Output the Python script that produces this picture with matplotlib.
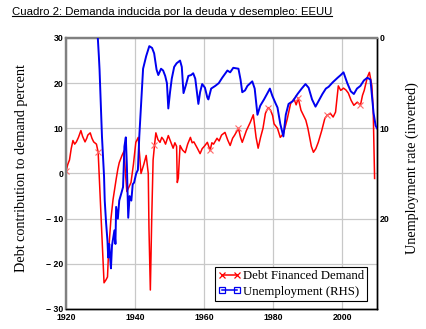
import numpy as np
import matplotlib
matplotlib.use("Agg")
import matplotlib.pyplot as plt
from matplotlib.lines import Line2D

# Debt financed demand, percent of aggregate demand (left axis)
debt_years = [1920.0, 1920.5, 1921.0, 1921.5, 1922.0, 1922.5, 1923.0, 1923.6, 1924.3, 1924.8,
              1925.5, 1926.0, 1926.3, 1927.0, 1927.5, 1928.0, 1928.8,
              1929.3, 1929.7, 1930.3, 1930.6, 1931.0, 1931.6, 1932.0, 1932.3, 1933.0, 1933.6,
              1934.5, 1935.0, 1935.4, 1936.2, 1936.8, 1937.2, 1937.6, 1938.2, 1938.8, 1939.5,
              1940.2, 1940.9, 1941.3, 1941.7, 1942.5, 1943.2, 1943.8, 1944.0, 1944.4, 1944.8,
              1945.2, 1945.6, 1946.0, 1946.6, 1947.2, 1947.7, 1948.2, 1948.8, 1949.6, 1950.3,
              1951.0, 1951.5, 1952.0, 1952.2, 1952.5, 1953.0, 1953.7, 1954.5, 1955.2, 1956.0,
              1956.5, 1957.0, 1958.0, 1958.8, 1959.4, 1960.0, 1960.9, 1961.7, 1962.2, 1962.7,
              1963.7, 1964.3, 1965.0, 1966.0, 1966.8, 1967.5, 1968.2, 1968.8, 1969.9, 1970.5,
              1971.0, 1971.6, 1972.2, 1973.3, 1974.2, 1975.0, 1975.6, 1976.3, 1977.0, 1977.7,
              1978.5, 1979.2, 1979.8, 1980.2, 1981.2, 1982.0, 1982.9, 1983.5, 1984.0, 1985.0,
              1986.0, 1986.6, 1987.2, 1988.0, 1988.7, 1989.4, 1990.0, 1991.0, 1991.6, 1992.3,
              1993.0, 1994.0, 1994.9, 1995.6, 1996.5, 1997.3, 1998.0, 1998.8, 1999.5, 2000.3,
              2001.0, 2001.7, 2002.5, 2003.3, 2004.3, 2005.2, 2005.8, 2006.3, 2007.2, 2007.8,
              2008.5, 2008.9, 2009.1, 2009.3]
debt_vals = [0.5, 2.0, 3.0, 5.5, 7.3, 6.5, 7.0, 8.0, 9.5, 8.2,
             7.0, 7.8, 8.5, 9.0, 7.8, 7.0, 6.5,
             4.7, -2.0, -12.0, -17.5, -24.2, -23.5, -22.9, -17.5, -10.0, -5.8,
             -1.3, 1.0, 2.4, 4.0, 5.0, 0.0, -4.0, -3.0, -2.0, 2.0,
             6.9, 8.0, 4.0, 0.0, 2.0, 4.0, 0.0, -12.0, -25.8, -10.0,
             3.0, 6.2, 9.0, 7.5, 6.9, 8.0, 7.5, 6.5, 8.4, 7.0,
             5.6, 6.8, 6.0, -2.0, -1.0, 6.2, 5.2, 4.6, 6.5, 8.0,
             6.8, 7.0, 5.6, 4.4, 5.5, 6.0, 6.9, 5.1, 6.8, 6.5,
             7.8, 7.2, 8.5, 9.1, 7.4, 6.2, 7.8, 8.5, 10.0, 8.0,
             6.9, 8.2, 9.5, 11.3, 13.0, 8.0, 5.6, 8.0, 10.0, 13.3,
             14.6, 14.0, 12.8, 11.0, 10.0, 8.0, 8.8, 10.5, 12.0, 15.5,
             16.5, 15.2, 16.7, 14.0, 12.9, 11.8, 10.0, 6.0, 4.7, 5.5,
             6.9, 9.5, 12.2, 12.9, 13.3, 12.5, 13.6, 19.4, 18.4, 18.9,
             18.5, 17.8, 16.2, 15.1, 15.8, 15.1, 17.3, 18.4, 21.3, 22.4,
             19.5, 14.0, 6.0, -1.1]
debt_marker_years = [1920.0, 1929.3, 1945.6, 1961.7, 1969.9, 1978.5, 1987.2, 1995.6, 2005.2]

# Unemployment rate, percent (right axis, inverted)
unemp_years = [1929.2, 1929.5, 1929.7, 1930.4, 1931.0, 1931.2, 1931.6, 1932.0, 1932.2, 1932.5,
               1932.7, 1933.0, 1933.3, 1933.5, 1934.0, 1934.3, 1934.5, 1935.0, 1935.4, 1936.0,
               1936.5, 1936.9, 1937.3, 1937.6, 1938.0, 1938.4, 1938.9, 1939.3, 1939.7, 1940.3,
               1940.8, 1941.2, 1942.3, 1943.2, 1944.1, 1944.9, 1945.5, 1946.2, 1946.7, 1947.5,
               1948.1, 1948.7, 1949.2, 1949.6, 1950.1, 1950.6, 1951.3, 1952.0, 1953.0, 1953.5,
               1954.0, 1954.7, 1955.4, 1956.2, 1956.8, 1957.4, 1958.3, 1958.8, 1959.4, 1960.2,
               1960.9, 1961.2, 1962.0, 1963.2, 1964.2, 1965.2, 1966.7, 1967.5, 1968.4, 1969.9,
               1970.5, 1971.0, 1971.8, 1972.5, 1973.9, 1974.6, 1975.4, 1976.2, 1977.3, 1978.3,
               1979.0, 1979.7, 1980.6, 1981.2, 1982.0, 1982.9, 1983.6, 1984.4, 1985.6, 1987.0,
               1988.2, 1989.3, 1990.2, 1991.2, 1992.2, 1993.2, 1994.2, 1995.2, 1996.0, 1997.2,
               1998.6, 1999.5, 2000.3, 2001.4, 2002.4, 2003.3, 2004.2, 2005.2, 2006.2, 2007.2,
               2008.1, 2009.0, 2009.6, 2010.0]
unemp_vals = [0.0, 2.0, 3.5, 10.9, 15.3, 18.0, 20.5, 22.5, 24.3, 22.8,
              24.0, 25.5, 23.0, 22.5, 21.3, 22.8, 18.7, 20.0, 18.0, 17.2,
              16.5, 12.0, 11.0, 14.0, 19.9, 17.5, 18.0, 16.2, 16.0, 15.0,
              14.6, 10.9, 3.4, 2.0, 0.9, 1.1, 1.7, 3.5, 4.1, 3.4,
              3.6, 4.2, 5.0, 7.8, 6.0, 4.5, 3.2, 2.8, 2.5, 3.2,
              6.1, 5.2, 4.2, 4.1, 3.9, 4.5, 7.3, 6.0, 5.1, 5.5,
              6.6, 6.8, 5.6, 5.3, 5.0, 4.4, 3.6, 3.8, 3.3, 3.4,
              4.6, 6.0, 5.8, 5.3, 4.8, 5.6, 8.5, 7.5, 6.8, 6.1,
              5.6, 6.4, 7.2, 7.7, 9.5, 10.9, 8.5, 7.3, 7.0, 6.2,
              5.6, 5.1, 5.5, 6.8, 7.6, 6.9, 6.2, 5.6, 5.4, 4.9,
              4.4, 4.1, 3.8, 5.0, 5.9, 6.2, 5.6, 5.3, 4.7, 4.4,
              4.6, 8.3, 9.7, 10.0]

x_ticks = [1920, 1940, 1960, 1980, 2000]
left_ticks = [-30, -20, -10, 0, 10, 20, 30]
left_labels = ["\u2212 30", "\u2212 20", "\u2212 10", "0", "10", "20", "30"]
right_ticks = [0, 10, 20]

title_text = "Cuadro 2: Demanda inducida por la deuda y desempleo: EEUU"
left_label = "Debt contribution to demand percent"
right_label = "Unemployment rate (inverted)"
legend_labels = ["Debt Financed Demand", "Unemployment (RHS)"]

RED = "#ff0000"
BLUE = "#0000f0"
GRID = "#c8c8c8"

fig = plt.figure(figsize=(4.26, 3.29), dpi=100)
ax = fig.add_axes([0.155, 0.0608, 0.73, 0.8237])
ax2 = ax.twinx()

marker_idx = [int(np.argmin(np.abs(np.array(debt_years) - y))) for y in debt_marker_years]
ax.plot(debt_years, debt_vals, color=RED, lw=1.1, zorder=3)
ax.plot(np.array(debt_years)[marker_idx], np.array(debt_vals)[marker_idx], ls="none",
        marker="x", ms=5, mew=0.8, color="#ff6a6a", zorder=4)

ax2.plot(unemp_years, unemp_vals, color=BLUE, lw=1.4, zorder=3)

ax.set_xlim(1920, 2010)
ax.set_ylim(-30, 30)
ax2.set_ylim(30, 0)

ax.set_xticks(x_ticks)
ax.set_yticks(left_ticks)
ax.set_yticklabels(left_labels)
ax2.set_yticks(right_ticks)

ax.grid(True, color=GRID, lw=0.9)
ax.set_axisbelow(True)

for lab in ax.get_xticklabels() + ax.get_yticklabels() + ax2.get_yticklabels():
    lab.set_fontfamily("Liberation Sans")
    lab.set_fontweight("bold")
    lab.set_fontsize(6.3)
ax.tick_params(axis="y", length=0, pad=2)
ax.tick_params(axis="x", length=0, pad=3)
ax2.tick_params(axis="y", length=0, pad=2)

for a in (ax, ax2):
    a.spines["top"].set_color("#808080")
    a.spines["top"].set_linewidth(1.6)
    a.spines["left"].set_color("#808080")
    a.spines["left"].set_linewidth(1.6)
    a.spines["bottom"].set_color("black")
    a.spines["bottom"].set_linewidth(1.0)
    a.spines["right"].set_color("black")
    a.spines["right"].set_linewidth(1.0)

fig.text(22 / 426, 1 - 168 / 329, left_label, rotation=90, ha="center", va="center",
         family="Liberation Serif", fontsize=10.2)
fig.text(412 / 426, 1 - 168 / 329, right_label, rotation=90, ha="center", va="center",
         family="Liberation Serif", fontsize=10.2)

title = fig.text(12 / 426, 1 - 12 / 329, title_text, ha="left", va="center",
                 family="Liberation Sans", fontsize=8.2)

handles = [
    Line2D([], [], color=RED, lw=1.1, marker="x", ms=5, mew=0.9),
    Line2D([], [], color=BLUE, lw=1.1, marker="s", ms=4.5, mfc="none", mew=0.9),
]
leg = ax2.legend(handles, legend_labels, loc="lower right", bbox_to_anchor=(0.968, 0.03),
                 prop={"family": "Liberation Serif", "size": 9.2}, numpoints=2,
                 handlelength=1.8, handletextpad=0.15, borderpad=0.25, labelspacing=0.25,
                 borderaxespad=0.0, fancybox=False, framealpha=1.0, edgecolor="black")
leg.get_frame().set_linewidth(0.8)
leg.set_zorder(10)

# underline the heading
fig.canvas.draw()
bb = title.get_window_extent().transformed(fig.transFigure.inverted())
fig.add_artist(Line2D([bb.x0, bb.x1], [bb.y0 + 0.002, bb.y0 + 0.002],
                      transform=fig.transFigure, color="black", lw=0.8))

fig.savefig("out.png", dpi=100)
